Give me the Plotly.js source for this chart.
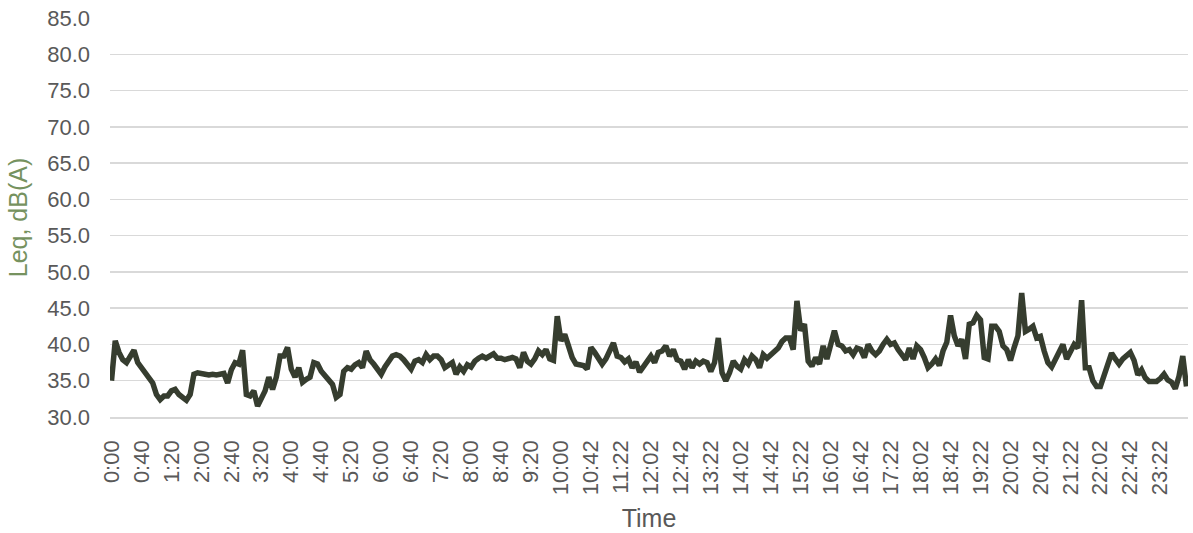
<!DOCTYPE html>
<html>
<head>
<meta charset="utf-8">
<script src="https://cdn.plot.ly/plotly-3.0.1.min.js"></script>
<style>
  html, body { margin: 0; padding: 0; background: #ffffff; }
  #chart { width: 1193px; height: 533px; }
</style>
</head>
<body>
<div id="chart"></div>
<script>
// Time categories (5-minute readings)
const times = [
  "0:00","0:05","0:10","0:15","0:20","0:25","0:30","0:35","0:40","0:45","0:50","0:55",
  "1:00","1:05","1:10","1:15","1:20","1:25","1:30","1:35","1:40","1:45","1:50","1:55",
  "2:00","2:05","2:10","2:15","2:20","2:25","2:30","2:35","2:40","2:45","2:50","2:55",
  "3:00","3:05","3:10","3:15","3:20","3:25","3:30","3:35","3:40","3:45","3:50","3:55",
  "4:00","4:05","4:10","4:15","4:20","4:25","4:30","4:35","4:40","4:45","4:50","4:55",
  "5:00","5:05","5:10","5:15","5:20","5:25","5:30","5:35","5:40","5:45","5:50","5:55",
  "6:00","6:05","6:10","6:15","6:20","6:25","6:30","6:35","6:40","6:45","6:50","6:55",
  "7:00","7:05","7:10","7:15","7:20","7:25","7:30","7:35","7:40","7:45","7:50","7:55",
  "8:00","8:05","8:10","8:15","8:20","8:25","8:30","8:35","8:40","8:45","8:50","8:55",
  "9:00","9:05","9:10","9:15","9:20","9:25","9:30","9:35","9:40","9:45","9:50","9:55",
  "10:00","10:07","10:12","10:17","10:22","10:27","10:32","10:37","10:42","10:47","10:52","10:57",
  "11:02","11:07","11:12","11:17","11:22","11:27","11:32","11:37","11:42","11:47","11:52","11:57",
  "12:02","12:07","12:12","12:17","12:22","12:27","12:32","12:37","12:42","12:47","12:52","12:57",
  "13:02","13:07","13:12","13:17","13:22","13:27","13:32","13:37","13:42","13:47","13:52","13:57",
  "14:02","14:07","14:12","14:17","14:22","14:27","14:32","14:37","14:42","14:47","14:52","14:57",
  "15:02","15:07","15:12","15:17","15:22","15:27","15:32","15:37","15:42","15:47","15:52","15:57",
  "16:02","16:07","16:12","16:17","16:22","16:27","16:32","16:37","16:42","16:47","16:52","16:57",
  "17:02","17:07","17:12","17:17","17:22","17:27","17:32","17:37","17:42","17:47","17:52","17:57",
  "18:02","18:07","18:12","18:17","18:22","18:27","18:32","18:37","18:42","18:47","18:52","18:57",
  "19:02","19:07","19:12","19:17","19:22","19:27","19:32","19:37","19:42","19:47","19:52","19:57",
  "20:02","20:07","20:12","20:17","20:22","20:27","20:32","20:37","20:42","20:47","20:52","20:57",
  "21:02","21:07","21:12","21:17","21:22","21:27","21:32","21:37","21:42","21:47","21:52","21:57",
  "22:02","22:07","22:12","22:17","22:22","22:27","22:32","22:37","22:42","22:47","22:52","22:57",
  "23:02","23:07","23:12","23:17","23:22","23:27","23:32","23:37","23:42","23:47","23:52","23:57"
];

// Leq, dB(A) readings
const leq = [
  35.0,40.5,38.9,37.9,37.5,38.4,39.2,37.5,36.8,36.3,35.6,34.7,
  33.1,32.4,32.9,32.9,33.6,33.8,33.1,32.6,32.3,33.1,35.9,36.1,
  35.9,35.9,35.8,35.9,35.8,35.9,36.0,34.7,36.5,37.5,37.3,39.2,
  33.1,32.9,33.6,31.5,32.4,33.6,35.5,33.8,35.5,38.4,38.4,39.6,
  36.6,35.5,36.8,34.8,35.2,35.5,37.5,37.3,36.3,35.6,35.0,34.5,
  32.7,33.1,36.3,36.8,36.6,37.2,37.5,36.8,39.1,37.9,37.3,36.6,
  35.9,36.9,37.7,38.4,38.6,38.4,37.9,37.3,36.6,37.7,37.9,37.5,
  38.6,37.9,38.4,38.4,37.9,36.8,37.2,37.5,35.9,36.9,36.3,37.2,
  36.9,37.7,38.1,38.4,38.1,38.4,38.7,38.1,38.1,37.9,38.0,38.2,
  38.0,36.8,38.9,37.7,37.3,38.0,39.1,38.6,39.3,38.0,37.8,43.9,
  40.5,41.4,39.8,38.2,37.3,37.1,37.1,36.6,39.6,38.9,38.2,37.3,
  38.0,39.1,40.2,38.4,38.2,37.6,38.0,36.8,37.6,36.2,37.0,37.7,
  38.4,37.5,38.9,39.1,39.8,38.4,39.3,37.9,37.7,36.6,37.9,36.8,
  37.7,37.3,37.7,37.5,36.3,37.5,40.9,36.1,35.0,36.1,37.7,37.0,
  36.6,37.9,37.3,38.4,37.9,36.8,38.6,38.1,38.6,38.9,39.5,40.4,
  40.9,40.9,39.3,46.0,41.9,42.8,37.7,37.0,38.2,37.3,39.8,38.0,
  40.0,41.9,40.0,39.8,39.1,39.3,38.6,39.5,39.3,38.2,40.0,39.1,
  38.6,39.1,40.0,40.7,40.0,40.2,39.3,38.6,37.9,39.5,38.0,39.8,
  39.3,38.2,36.8,37.3,38.0,37.1,39.1,40.3,44.0,41.2,39.8,40.7,
  38.0,42.8,43.0,44.0,43.4,38.2,38.0,42.5,42.5,41.8,39.8,39.3,
  37.8,39.6,41.2,47.1,41.8,42.1,42.5,40.9,41.1,39.1,37.5,36.9,
  38.0,39.0,40.0,38.0,38.9,40.0,39.5,46.1,36.8,36.8,35.0,34.2,
  34.2,35.7,37.3,38.8,38.0,37.3,38.0,38.4,38.9,37.8,35.8,36.5,
  35.4,34.9,34.9,34.9,35.3,35.9,35.1,34.8,33.9,35.6,38.4,34.2
];

// Axis tick labels shown on the category axis
const xTickLabels = [
  "0:00","0:40","1:20","2:00","2:40","3:20","4:00","4:40","5:20","6:00","6:40","7:20",
  "8:00","8:40","9:20","10:00","10:42","11:22","12:02","12:42","13:22","14:02","14:42","15:22",
  "16:02","16:42","17:22","18:02","18:42","19:22","20:02","20:42","21:22","22:02","22:42","23:22"
];
const yTicks = [30,35,40,45,50,55,60,65,70,75,80,85];

const trace = {
  type: 'scatter',
  mode: 'lines',
  x: times,
  y: leq,
  line: { color: '#363d2f', width: 5.5, shape: 'linear' },
  hoverinfo: 'x+y',
  showlegend: false
};

const layout = {
  width: 1193,
  height: 533,
  margin: { l: 110, r: 5, t: 18, b: 115.5 },
  paper_bgcolor: '#ffffff',
  plot_bgcolor: '#ffffff',
  font: { family: 'Liberation Sans, Arial, sans-serif', color: '#595959', size: 22 },
  xaxis: {
    type: 'category',
    range: [-0.4, 287.4],
    tickmode: 'array',
    tickvals: xTickLabels,
    ticktext: xTickLabels,
    tickangle: -90,
    ticks: '',
    ticklabelstandoff: 13,
    showgrid: false,
    showline: true,
    linecolor: '#d9d9d9',
    linewidth: 1.5,
    zeroline: false,
    tickfont: { size: 22, color: '#595959' },
    title: { text: 'Time', font: { size: 25, color: '#595959' }, standoff: 15 }
  },
  yaxis: {
    range: [30, 85],
    tickmode: 'array',
    tickvals: yTicks,
    ticktext: yTicks.map(v => v.toFixed(1)),
    showgrid: true,
    gridcolor: '#d9d9d9',
    gridwidth: 1.5,
    zeroline: false,
    showline: false,
    ticks: '',
    ticklabelstandoff: 19,
    tickfont: { size: 22, color: '#595959' },
    title: { text: 'Leq, dB(A)', font: { size: 25, color: '#76925f' }, standoff: 12 }
  }
};

Plotly.newPlot('chart', [trace], layout, { displayModeBar: false, staticPlot: true });
</script>
</body>
</html>
